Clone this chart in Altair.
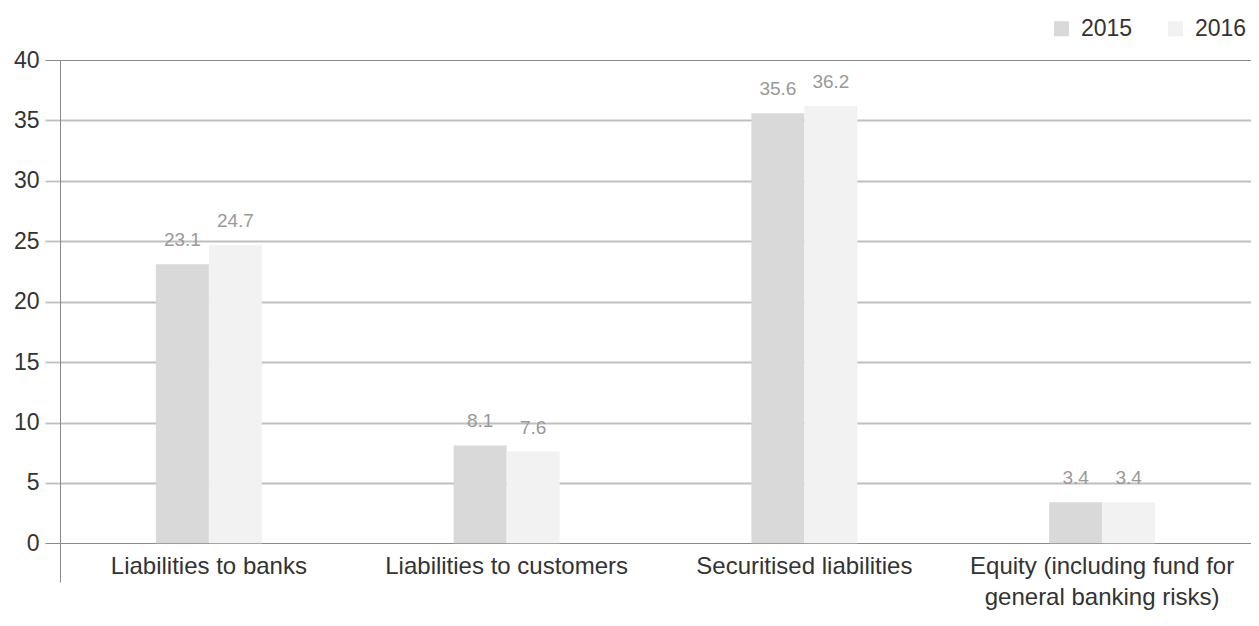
import altair as alt
import pandas as pd

categories = [
    "Liabilities to banks",
    "Liabilities to customers",
    "Securitised liabilities",
    "Equity (including fund for general banking risks)",
]
years = ["2015", "2016"]
values_2015 = [23.1, 8.1, 35.6, 3.4]
values_2016 = [24.7, 7.6, 36.2, 3.4]
colors = ["#d9d9d9", "#f2f2f2"]

rows = []
for c, a, b in zip(categories, values_2015, values_2016):
    rows.append({"category": c, "year": "2015", "value": a})
    rows.append({"category": c, "year": "2016", "value": b})
df = pd.DataFrame(rows)

FONT = "Liberation Sans"
edge_test = "datum.value == 0 || datum.value == 40"
line_color = {"condition": {"test": edge_test, "value": "#8a8a8a"}, "value": "#bfbfbf"}
line_width = {"condition": {"test": edge_test, "value": 1}, "value": 1.8}

x_enc = alt.X(
    "category:N",
    sort=categories,
    title=None,
    scale=alt.Scale(paddingInner=0.644, paddingOuter=0.322),
    axis=alt.Axis(
        orient="bottom",
        offset=-37,
        domain=False,
        ticks=False,
        labelAngle=0,
        labelFont=FONT,
        labelFontSize=24,
        labelColor="#333333",
        labelPadding=9,
        labelLineHeight=31,
        labelLimit=500,
        labelExpr="datum.label == 'Equity (including fund for general banking risks)' ? ['Equity (including fund for', 'general banking risks)'] : datum.label",
    ),
)
xoff = alt.XOffset("year:N", sort=years, scale=alt.Scale(paddingInner=0, paddingOuter=0))
y_enc = alt.Y(
    "value:Q",
    stack=None,
    title=None,
    scale=alt.Scale(domain=[-3.2, 40], nice=False, zero=False),
    axis=alt.Axis(
        values=list(range(0, 41, 5)),
        grid=True,
        gridColor=line_color,
        gridWidth=line_width,
        tickColor=line_color,
        tickWidth=line_width,
        tickSize=15,
        domainColor="#8a8a8a",
        labelFont=FONT,
        labelFontSize=23,
        labelColor="#333333",
        labelPadding=6,
    ),
)

bars = alt.Chart(df).mark_bar().encode(
    x=x_enc,
    xOffset=xoff,
    y=y_enc,
    color=alt.Color(
        "year:N",
        sort=years,
        scale=alt.Scale(domain=years, range=colors),
        legend=alt.Legend(
            title=None,
            orient="none",
            legendX=990,
            legendY=-43,
            direction="horizontal",
            symbolType="square",
            symbolSize=225,
            symbolStrokeWidth=0,
            labelFont=FONT,
            labelFontSize=23,
            labelColor="#333333",
            labelOffset=8,
            columnPadding=31,
            padding=0,
        ),
    ),
)

labels = alt.Chart(df).mark_text(
    baseline="bottom", dy=-14, fontSize=19, color="#999999", font=FONT
).encode(
    x=x_enc,
    xOffset=xoff,
    y=y_enc,
    text=alt.Text("value:Q", format=".1f"),
)

chart = (
    alt.layer(bars, labels)
    .properties(
        width=1191,
        height=522,
        autosize=alt.AutoSizeParams(type="none"),
        padding={"left": 52, "top": 52, "right": 0, "bottom": 30},
    )
    .configure(background="white")
    .configure_view(stroke=None)
)

chart.save("out.html", embed_options={"renderer": "svg", "actions": False})
